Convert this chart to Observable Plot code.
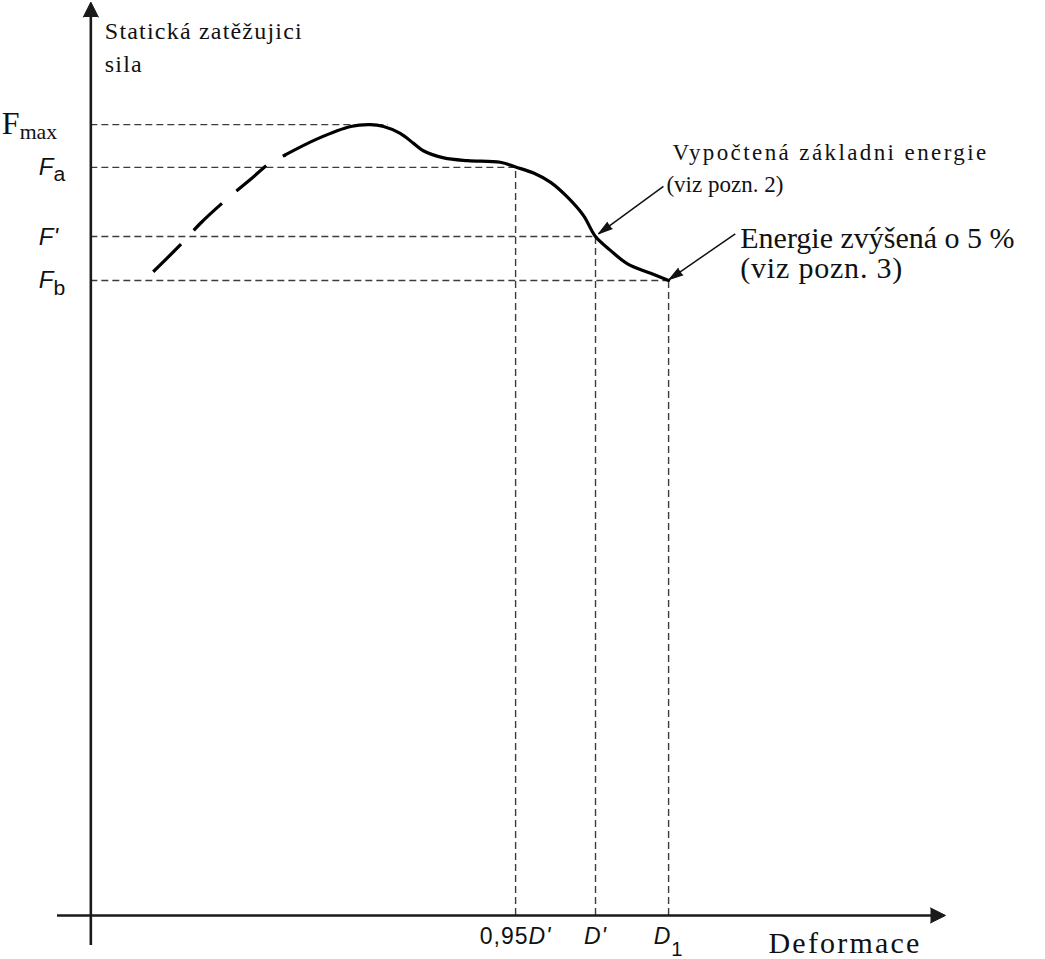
<!DOCTYPE html>
<html><head><meta charset="utf-8">
<script src="https://cdn.jsdelivr.net/npm/d3@7"></script>
<script src="https://cdn.jsdelivr.net/npm/@observablehq/plot@0.6"></script>
<style>body{margin:0;background:#fff}</style>
</head><body><div id="chart"></div>
<script>
// ---- data (relative units: Fmax = 100, deformation axis 0..100) ----
const forceLabels = ["F_max", "*F*_a", "*F'*", "*F*_b"];
const forceValues = [100, 94.6, 85.85, 80.3];
const forceEnds   = [34.8, 49.7, 59.05, 67.6];      // where each guide meets the curve
const deformLabels = ["0,95*D'*", "*D'*", "*D*_1"];
const deformValues = [49.7, 59.05, 67.6];
const deformTops   = [94.6, 85.85, 80.3];
// rising part of the curve (long dashes)
const riseX = [7.3, 10.75, 12.8, 15.5, 18.7, 20.9, 22.8];
const riseY = [81.4, 85.1, 87.5, 90.2, 93.1, 95.1, 96.2];
// main curve (solid)
const curveX = [22.8, 26.5, 30.4, 32.7, 34.25, 36.2, 37.8, 38.9, 41.3, 44.1, 47.9, 49.7, 51.8, 53.8, 55.8, 57.65, 59.05, 60.8, 62.8, 65.5, 67.6];
const curveY = [96.2, 98.2, 99.76, 100, 99.76, 98.9, 97.6, 96.7, 95.8, 95.45, 95.25, 94.64, 93.88, 92.7, 90.8, 88.5, 85.85, 84.1, 82.4, 81.2, 80.3];
// annotations
const note1Lines = ["Vypočtená základni energie", "(viz pozn. 2)"];
const note2Lines = ["Energie zvýšená o 5 %", "(viz pozn. 3)"];
const noteFromX = [67.0, 75.4];
const noteFromY = [92.2, 86.2];
const noteToX = [59.4, 67.65];
const noteToY = [86.2, 80.4];
const yTitle = ["Statická zatěžujici", "sila"];
const xTitle = ["Deformace"];

// ---- layout ----
const W = 1045, H = 959;
const M = {left: 57, right: 100, top: 0, bottom: 14};
const xDomain = [-3.9, 100];
const yDomain = [-3.8, 115.7];
const xTip = 100, yTip = 115.5;
const xS = d3.scaleLinear(xDomain, [M.left, W - M.right]);
const yS = d3.scaleLinear(yDomain, [H - M.bottom, M.top]);
const angle = (x1, y1, x2, y2) => Math.atan2(xS(x2) - xS(x1), -(yS(y2) - yS(y1))) * 180 / Math.PI;
const noteAngles = noteFromX.map((_, i) => angle(noteFromX[i], noteFromY[i], noteToX[i], noteToY[i]));

const serif = "Liberation Serif, Times New Roman, serif";
const sans = "Liberation Sans, Arial, sans-serif";
const guide = {stroke: "#3c3c3c", strokeWidth: 1.4, strokeDasharray: "7,4"};
const axisStyle = {stroke: "#1a1a1a", strokeWidth: 2.6};

const svg = Plot.plot({
  width: W, height: H,
  marginLeft: M.left, marginRight: M.right, marginTop: M.top, marginBottom: M.bottom,
  x: {domain: xDomain, axis: null},
  y: {domain: yDomain, axis: null},
  style: {background: "#fff", overflow: "visible"},
  marks: [
    Plot.ruleY(forceValues, {y: d => d, x1: 0, x2: forceEnds, ...guide}),
    Plot.ruleX(deformValues, {x: d => d, y1: 0, y2: deformTops, ...guide}),
    // axes
    Plot.ruleX([0], {y1: yDomain[0], y2: yTip - 1.2, ...axisStyle}),
    Plot.ruleY([0], {x1: xDomain[0], x2: xTip - 1.2, ...axisStyle}),
    Plot.vector([0, 1], {x: [0, xTip], y: [yTip, 0], rotate: [0, 90], shape: "spike", anchor: "end",
      length: 15, r: 7.5, fill: "#1a1a1a", stroke: "#1a1a1a", strokeWidth: 1}),
    // curve
    Plot.line(riseX, {x: riseX, y: riseY, curve: "catmull-rom", stroke: "#000", strokeWidth: 3.2,
      strokeDasharray: "39,19", strokeLinecap: "butt"}),
    Plot.line(curveX, {x: curveX, y: curveY, curve: "catmull-rom", stroke: "#000", strokeWidth: 3.2}),
    // annotation arrows
    Plot.link(noteFromX, {x1: noteFromX, y1: noteFromY, x2: noteToX, y2: noteToY, stroke: "#111", strokeWidth: 1.5}),
    Plot.vector(noteToX, {x: noteToX, y: noteToY, rotate: noteAngles, shape: "spike", anchor: "end",
      length: 14, r: 4, fill: "#111", stroke: "#111", strokeWidth: 1}),
    // y labels
    Plot.text([forceLabels[0]], {x: 0, y: forceValues[0], text: d => d, dx: -89, dy: 9, textAnchor: "start",
      lineAnchor: "bottom", fontFamily: serif, fontSize: 32, fill: "#111"}),
    Plot.text(forceLabels.slice(1), {x: 0, y: forceValues.slice(1), text: d => d, dx: -52, dy: 8, textAnchor: "start",
      lineAnchor: "bottom", fontFamily: sans, fontSize: 24, fill: "#111"}),
    // x labels
    Plot.text(deformLabels, {x: deformValues, y: 0, text: d => d, dy: 29, textAnchor: "middle",
      lineAnchor: "bottom", fontFamily: sans, fontSize: 23, fill: "#111"}),
    // axis titles
    Plot.text([yTitle[0]], {x: 0, y: yTip, text: d => d, dx: 14, dy: 37, textAnchor: "start", lineAnchor: "bottom",
      fontFamily: serif, fontSize: 24, fill: "#111"}),
    Plot.text([yTitle[1]], {x: 0, y: yTip, text: d => d, dx: 14, dy: 70, textAnchor: "start", lineAnchor: "bottom",
      fontFamily: serif, fontSize: 24, fill: "#111"}),
    Plot.text(xTitle, {x: xTip, y: 0, text: d => d, dx: -177, dy: 38, textAnchor: "start", lineAnchor: "bottom",
      fontFamily: serif, fontSize: 30, fill: "#111"}),
    // notes
    Plot.text([note1Lines[0]], {x: noteFromX[0], y: noteFromY[0], text: d => d, dx: 9, dy: -26, textAnchor: "start",
      lineAnchor: "bottom", fontFamily: serif, fontSize: 23, fill: "#111"}),
    Plot.text([note1Lines[1]], {x: noteFromX[0], y: noteFromY[0], text: d => d, dx: 3, dy: 6, textAnchor: "start",
      lineAnchor: "bottom", fontFamily: serif, fontSize: 23, fill: "#111"}),
    Plot.text([note2Lines[0]], {x: noteFromX[1], y: noteFromY[1], text: d => d, dx: 5, dy: 14, textAnchor: "start",
      lineAnchor: "bottom", fontFamily: serif, fontSize: 30, fill: "#111"}),
    Plot.text([note2Lines[1]], {x: noteFromX[1], y: noteFromY[1], text: d => d, dx: 5, dy: 44, textAnchor: "start",
      lineAnchor: "bottom", fontFamily: serif, fontSize: 30, fill: "#111"})
  ]
});

// rich text: *italic*, _subscript  (subscript [size em, dy px] per label)
const subCfg = {"F_max": [0.68, 5], "*F*_a": [0.88, 6], "*F*_b": [0.88, 7], "*D*_1": [0.88, 12]};
// letter spacing per text
const spacing = {"Vypočtená základni energie": 2.4, "Statická zatěžujici": 1.2, "sila": 1.2, "Deformace": 2.2,
  "(viz pozn. 3)": 0.8, "0,95*D'*": 1, "*D'*": 1, "*D*_1": 1};
function richify(el, scale, dy) {
  const s = el.textContent;
  const [main, sub] = s.split("_");
  el.textContent = "";
  main.split("*").forEach((part, i) => {
    if (!part) return;
    const t = document.createElementNS("http://www.w3.org/2000/svg", "tspan");
    if (i % 2 === 1) t.setAttribute("font-style", "italic");
    t.textContent = part;
    el.appendChild(t);
  });
  if (sub) {
    const t = document.createElementNS("http://www.w3.org/2000/svg", "tspan");
    t.setAttribute("font-size", scale + "em");
    t.setAttribute("dy", dy);
    t.textContent = sub;
    el.appendChild(t);
  }
}
svg.querySelectorAll("text").forEach(el => {
  const s = el.textContent;
  if (spacing[s] != null) el.setAttribute("letter-spacing", spacing[s]);
  if (/[*_]/.test(s)) {
    const [sc, dy] = subCfg[s] || [0.88, 6];
    richify(el, sc, dy);
  }
});
document.getElementById("chart").appendChild(svg);
</script>
</body></html>
